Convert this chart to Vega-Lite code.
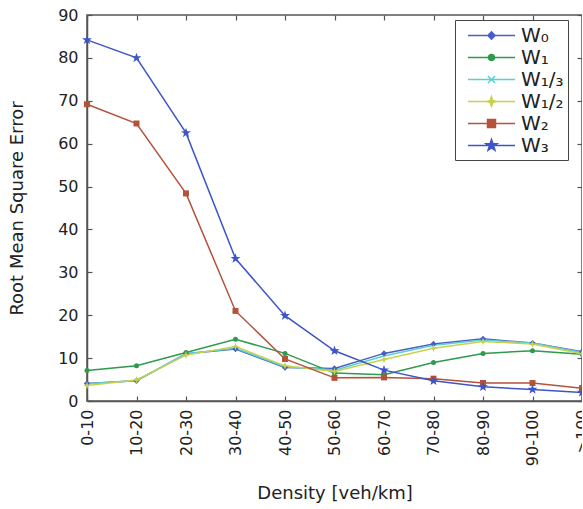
{
  "$schema": "https://vega.github.io/schema/vega-lite/v6.json",
  "width": 495,
  "height": 386,
  "autosize": {"type": "none"},
  "padding": {"left": 87, "top": 15, "right": 0, "bottom": 108},
  "config": {
    "font": "DejaVu Sans",
    "view": {"stroke": "#555", "strokeWidth": 1.5},
    "axis": {"grid": false, "domainColor": "#555", "domainWidth": 1.5, "tickColor": "#555", "tickWidth": 1.2, "labelColor": "#222", "titleColor": "#222", "labelFontSize": 16, "titleFontSize": 18, "titleFontWeight": "normal"},
    "point": {"filled": true, "opacity": 1, "strokeWidth": 1.2}
  },
  "data": {"values": [
    {"d": "0-10", "s": "W₀", "v": 4.1}, {"d": "10-20", "s": "W₀", "v": 4.7}, {"d": "20-30", "s": "W₀", "v": 11.0}, {"d": "30-40", "s": "W₀", "v": 12.1}, {"d": "40-50", "s": "W₀", "v": 7.8}, {"d": "50-60", "s": "W₀", "v": 7.6}, {"d": "60-70", "s": "W₀", "v": 11.1}, {"d": "70-80", "s": "W₀", "v": 13.3}, {"d": "80-90", "s": "W₀", "v": 14.5}, {"d": "90-100", "s": "W₀", "v": 13.5}, {"d": ">100", "s": "W₀", "v": 11.5},
    {"d": "0-10", "s": "W₁", "v": 7.1}, {"d": "10-20", "s": "W₁", "v": 8.2}, {"d": "20-30", "s": "W₁", "v": 11.3}, {"d": "30-40", "s": "W₁", "v": 14.4}, {"d": "40-50", "s": "W₁", "v": 11.1}, {"d": "50-60", "s": "W₁", "v": 6.5}, {"d": "60-70", "s": "W₁", "v": 6.1}, {"d": "70-80", "s": "W₁", "v": 9.0}, {"d": "80-90", "s": "W₁", "v": 11.1}, {"d": "90-100", "s": "W₁", "v": 11.7}, {"d": ">100", "s": "W₁", "v": 10.9},
    {"d": "0-10", "s": "W₁/₃", "v": 4.0}, {"d": "10-20", "s": "W₁/₃", "v": 4.8}, {"d": "20-30", "s": "W₁/₃", "v": 11.0}, {"d": "30-40", "s": "W₁/₃", "v": 12.3}, {"d": "40-50", "s": "W₁/₃", "v": 8.0}, {"d": "50-60", "s": "W₁/₃", "v": 7.2}, {"d": "60-70", "s": "W₁/₃", "v": 10.5}, {"d": "70-80", "s": "W₁/₃", "v": 13.0}, {"d": "80-90", "s": "W₁/₃", "v": 14.2}, {"d": "90-100", "s": "W₁/₃", "v": 13.5}, {"d": ">100", "s": "W₁/₃", "v": 11.3},
    {"d": "0-10", "s": "W₁/₂", "v": 3.6}, {"d": "10-20", "s": "W₁/₂", "v": 4.9}, {"d": "20-30", "s": "W₁/₂", "v": 10.7}, {"d": "30-40", "s": "W₁/₂", "v": 12.7}, {"d": "40-50", "s": "W₁/₂", "v": 8.2}, {"d": "50-60", "s": "W₁/₂", "v": 6.9}, {"d": "60-70", "s": "W₁/₂", "v": 9.7}, {"d": "70-80", "s": "W₁/₂", "v": 12.3}, {"d": "80-90", "s": "W₁/₂", "v": 13.9}, {"d": "90-100", "s": "W₁/₂", "v": 13.3}, {"d": ">100", "s": "W₁/₂", "v": 11.0},
    {"d": "0-10", "s": "W₂", "v": 69.2}, {"d": "10-20", "s": "W₂", "v": 64.7}, {"d": "20-30", "s": "W₂", "v": 48.4}, {"d": "30-40", "s": "W₂", "v": 21.0}, {"d": "40-50", "s": "W₂", "v": 9.8}, {"d": "50-60", "s": "W₂", "v": 5.4}, {"d": "60-70", "s": "W₂", "v": 5.5}, {"d": "70-80", "s": "W₂", "v": 5.2}, {"d": "80-90", "s": "W₂", "v": 4.2}, {"d": "90-100", "s": "W₂", "v": 4.2}, {"d": ">100", "s": "W₂", "v": 3.0},
    {"d": "0-10", "s": "W₃", "v": 84.2}, {"d": "10-20", "s": "W₃", "v": 80.0}, {"d": "20-30", "s": "W₃", "v": 62.5}, {"d": "30-40", "s": "W₃", "v": 33.2}, {"d": "40-50", "s": "W₃", "v": 19.9}, {"d": "50-60", "s": "W₃", "v": 11.7}, {"d": "60-70", "s": "W₃", "v": 7.2}, {"d": "70-80", "s": "W₃", "v": 4.7}, {"d": "80-90", "s": "W₃", "v": 3.3}, {"d": "90-100", "s": "W₃", "v": 2.7}, {"d": ">100", "s": "W₃", "v": 2.0}
  ]},
  "encoding": {
    "x": {"field": "d", "type": "ordinal", "sort": null,
      "scale": {"type": "point", "padding": 0, "domain": ["0-10", "10-20", "20-30", "30-40", "40-50", "50-60", "60-70", "70-80", "80-90", "90-100", ">100"]},
      "axis": null},
    "y": {"field": "v", "type": "quantitative", "scale": {"domain": [0, 90], "nice": false}, "axis": null}
  },
  "layer": [
    {
      "mark": {"type": "line", "strokeWidth": 1.5},
      "encoding": {
        "x": {"field": "d", "type": "ordinal", "sort": null,
          "scale": {"type": "point", "padding": 0, "domain": ["0-10", "10-20", "20-30", "30-40", "40-50", "50-60", "60-70", "70-80", "80-90", "90-100", ">100"]},
          "axis": {"title": "Density [veh/km]", "labelAngle": -90, "tickSize": -5, "labelPadding": 13, "titlePadding": 19}},
        "y": {"field": "v", "type": "quantitative",
          "scale": {"domain": [0, 90], "nice": false},
          "axis": {"title": "Root Mean Square Error", "values": [0, 10, 20, 30, 40, 50, 60, 70, 80, 90], "tickSize": -5, "labelPadding": 14, "titlePadding": 31}},
        "color": {"field": "s", "type": "nominal",
          "scale": {"domain": ["W₀", "W₁", "W₁/₃", "W₁/₂", "W₂", "W₃"], "range": ["#4a5ec4", "#2f9a4c", "#5ccfd4", "#c6d24e", "#b4523a", "#3d55c8"]},
          "legend": {"orient": "none", "legendX": 368, "legendY": 5, "title": null, "strokeColor": "#444", "fillColor": "white", "padding": 4,
            "symbolType": "stroke", "symbolSize": 441, "symbolStrokeWidth": 1.5, "symbolOffset": 21, "labelFontSize": 20, "labelColor": "#222", "labelOffset": 18, "rowPadding": -1,
            "labelExpr": "datum.label + '\u2002'",
            "encode": {"symbols": {"update": {
              "shape": {"signal": "['M-2.24,0H2.24M-0.34,0L0,-0.34L0.34,0L0,0.34Z', 'M-2.24,0H2.24M-0.29,0A0.29,0.29,0,1,0,0.29,0A0.29,0.29,0,1,0,-0.29,0Z', 'M-2.24,0H2.24M-0.34,-0.34L0.34,0.34M-0.34,0.34L0.34,-0.34', 'M-2.24,0H2.24M-0.45,0L-0.11,-0.11L0,-0.45L0.11,-0.11L0.45,0L0.11,0.11L0,0.45L-0.11,0.11Z', 'M-2.24,0H2.24M-0.38,-0.38H0.38V0.38H-0.38Z', 'M-2.24,0H2.24M0,-0.56L0.132,-0.181L0.533,-0.173L0.213,0.069L0.329,0.453L0,0.224L-0.329,0.453L-0.213,0.069L-0.533,-0.173L-0.132,-0.181Z'][datum.index]"},
              "fill": {"signal": "scale('color', datum.value)"},
              "stroke": {"signal": "scale('color', datum.value)"},
              "opacity": {"value": 1}
            }}}}
        }
      }
    },
    {
      "transform": [{"filter": "datum.s === 'W₀'"}],
      "mark": {"type": "point", "shape": "diamond", "size": 40, "color": "#4a5ec4"},
      "encoding": {
        "x": {"field": "d", "type": "ordinal", "sort": null,
          "scale": {"type": "point", "padding": 0, "domain": ["0-10", "10-20", "20-30", "30-40", "40-50", "50-60", "60-70", "70-80", "80-90", "90-100", ">100"]},
          "axis": {"orient": "top", "labels": false, "title": null, "tickSize": -5, "domain": false}},
        "y": {"field": "v", "type": "quantitative", "scale": {"domain": [0, 90], "nice": false},
          "axis": {"orient": "right", "labels": false, "title": null, "values": [0, 10, 20, 30, 40, 50, 60, 70, 80, 90], "tickSize": -5, "domain": false}}
      }
    },
    {
      "transform": [{"filter": "datum.s === 'W₁'"}],
      "mark": {"type": "point", "shape": "circle", "size": 25, "color": "#2f9a4c"}
    },
    {
      "transform": [{"filter": "datum.s === 'W₁/₃'"}],
      "mark": {"type": "point", "shape": "M-1,-1L1,1M-1,1L1,-1", "size": 36, "color": "#5ccfd4"}
    },
    {
      "transform": [{"filter": "datum.s === 'W₁/₂'"}],
      "mark": {"type": "point", "shape": "M-1,0L-0.25,-0.25L0,-1L0.25,-0.25L1,0L0.25,0.25L0,1L-0.25,0.25Z", "size": 64, "color": "#c6d24e"}
    },
    {
      "transform": [{"filter": "datum.s === 'W₂'"}],
      "mark": {"type": "point", "shape": "square", "size": 36, "color": "#b4523a"}
    },
    {
      "transform": [{"filter": "datum.s === 'W₃'"}],
      "mark": {"type": "point", "shape": "M0,-1L0.235,-0.324L0.951,-0.309L0.380,0.124L0.588,0.809L0,0.4L-0.588,0.809L-0.380,0.124L-0.951,-0.309L-0.235,-0.324Z", "size": 110, "color": "#3d55c8"}
    }
  ],
  "resolve": {"axis": {"x": "independent", "y": "independent"}}
}
